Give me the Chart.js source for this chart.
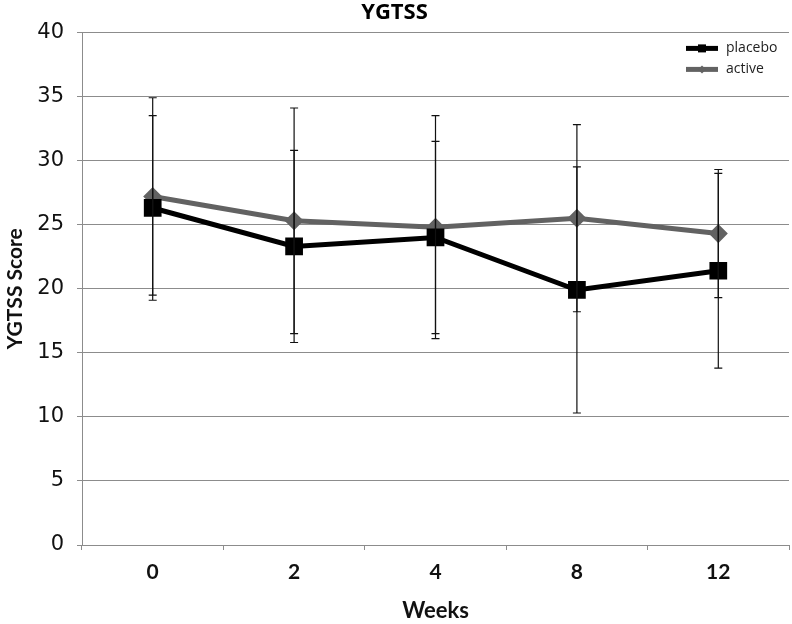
<!DOCTYPE html>
<html>
<head>
<meta charset="utf-8">
<script src="https://cdn.jsdelivr.net/npm/chart.js@4/dist/chart.umd.min.js"></script>
<style>
  html, body { margin: 0; padding: 0; background: #fff; }
  #wrap { width: 792px; height: 624px; }
</style>
</head>
<body>
<div id="wrap"><canvas id="myChart"></canvas></div>
<script>
// chart values
const weeks = ['0', '2', '4', '8', '12'];
const placebo = [26.3, 23.3, 24.0, 19.9, 21.4];
const placeboErr = [7.2, 7.5, 7.5, 9.6, 7.6];
const active = [27.2, 25.3, 24.8, 25.5, 24.3];
const activeErr = [7.7, 8.8, 8.7, 7.3, 5.0];
const yTicks = [0, 5, 10, 15, 20, 25, 30, 35, 40];

const gridGray = '#8c8c8c';

// draws +/- error bars for datasets that have an err array
const errorBars = {
  id: 'errorBars',
  afterDatasetsDraw(chart) {
    const ctx = chart.ctx;
    const yScale = chart.scales.y;
    ctx.save();
    ctx.strokeStyle = '#111';
    ctx.lineWidth = 1.2;
    chart.data.datasets.forEach((ds, i) => {
      const meta = chart.getDatasetMeta(i);
      meta.data.forEach((pt, j) => {
        const x = pt.x;
        const hi = yScale.getPixelForValue(ds.data[j] + ds.err[j]);
        const lo = yScale.getPixelForValue(ds.data[j] - ds.err[j]);
        ctx.beginPath();
        ctx.moveTo(x, hi); ctx.lineTo(x, lo);
        ctx.moveTo(x - 4, hi); ctx.lineTo(x + 4, hi);
        ctx.moveTo(x - 4, lo); ctx.lineTo(x + 4, lo);
        ctx.stroke();
      });
    });
    ctx.restore();
  }
};

// legend sitting inside the plot, top right
const innerLegend = {
  id: 'innerLegend',
  afterDraw(chart) {
    const ctx = chart.ctx;
    const area = chart.chartArea;
    ctx.save();
    chart.data.datasets.forEach((ds, i) => {
      const y = area.top + 16 + i * 21;
      const x0 = area.right - 103;
      ctx.strokeStyle = ds.borderColor;
      ctx.lineWidth = 5;
      ctx.beginPath();
      ctx.moveTo(x0, y); ctx.lineTo(x0 + 32, y);
      ctx.stroke();
      ctx.fillStyle = ds.borderColor;
      if (ds.pointStyle === 'rect') {
        ctx.fillRect(x0 + 12, y - 4, 8, 8);
      } else {
        ctx.beginPath();
        ctx.moveTo(x0 + 16, y - 4); ctx.lineTo(x0 + 20, y);
        ctx.lineTo(x0 + 16, y + 4); ctx.lineTo(x0 + 12, y);
        ctx.fill();
      }
      ctx.fillStyle = '#222';
      ctx.font = '14px "Open Sans"';
      ctx.textBaseline = 'middle';
      ctx.fillText(ds.label, x0 + 40, y);
    });
    ctx.restore();
  }
};

new Chart(document.getElementById('myChart'), {
  type: 'line',
  data: {
    labels: weeks,
    datasets: [
      {
        label: 'placebo',
        data: placebo,
        err: placeboErr,
        borderColor: '#000000',
        backgroundColor: '#000000',
        borderWidth: 5,
        pointStyle: 'rect',
        pointRadius: 9,
        fill: false
      },
      {
        label: 'active',
        data: active,
        err: activeErr,
        borderColor: '#626262',
        backgroundColor: '#626262',
        borderWidth: 5,
        pointStyle: 'rectRot',
        pointRadius: 6,
        fill: false
      }
    ]
  },
  options: {
    responsive: true,
    maintainAspectRatio: false,
    animation: false,
    layout: { autoPadding: false, padding: { left: 0, right: 3, top: 0, bottom: 0 } },
    scales: {
      x: {
        offset: true,
        afterFit: (s) => { s.height = 79; },
        grid: { offset: true, drawOnChartArea: false, tickLength: 5, color: gridGray },
        border: { color: gridGray },
        ticks: { padding: 10, color: '#111', font: { family: 'Lato', weight: 'bold', size: 21 } },
        title: {
          display: true,
          text: 'Weeks',
          color: '#111',
          padding: { top: 4, bottom: 0 },
          font: { family: 'Lato', weight: 'bold', size: 22 }
        }
      },
      y: {
        min: 0,
        max: 40,
        afterFit: (s) => { s.width = 82; },
        afterBuildTicks: (s) => { s.ticks = yTicks.map(v => ({ value: v })); },
        grid: { color: gridGray, tickLength: 5 },
        border: { color: gridGray },
        ticks: { padding: 13, color: '#111', font: { family: 'DejaVu Sans', size: 21 } },
        title: {
          display: true,
          text: 'YGTSS Score',
          color: '#111',
          padding: { top: 3, bottom: 4 },
          font: { family: 'Lato', weight: 'bold', size: 21 }
        }
      }
    },
    plugins: {
      legend: { display: false },
      tooltip: { enabled: false },
      title: {
        display: true,
        text: 'YGTSS',
        color: '#000',
        padding: { top: 0, bottom: 6 },
        font: { family: 'Open Sans', weight: 'bold', size: 22 }
      }
    }
  },
  plugins: [errorBars, innerLegend]
});
</script>
</body>
</html>
